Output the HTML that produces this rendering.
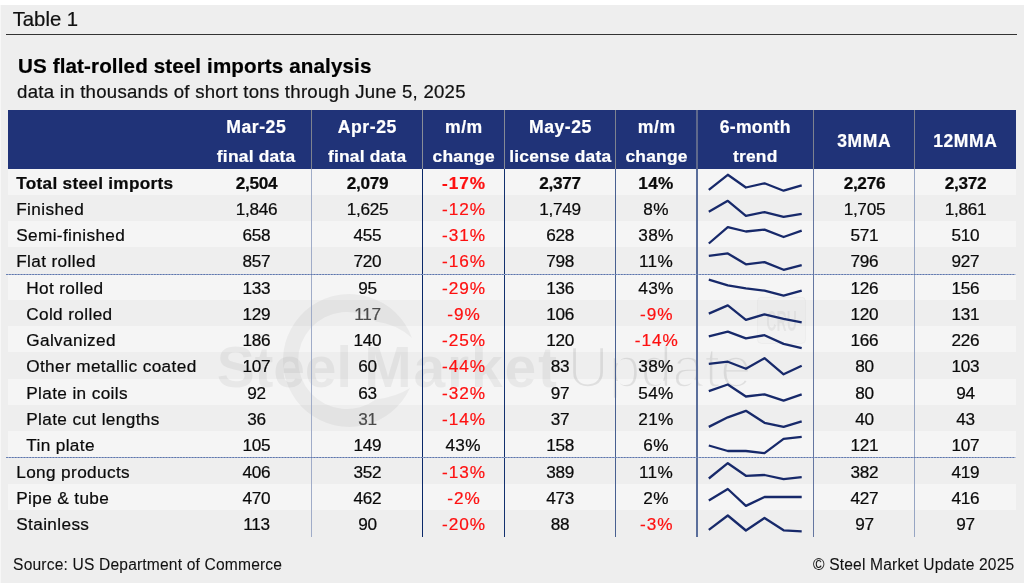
<!DOCTYPE html>
<html lang="en"><head><meta charset="utf-8"><title>Table 1 - US flat-rolled steel imports analysis</title>
<style>
html,body{margin:0;padding:0;background:#fff;}
body{width:1024px;height:583px;position:relative;overflow:hidden;font-family:"Liberation Sans", sans-serif;}
#pg{position:absolute;left:0;top:5px;width:1024px;height:578px;background:#eeeeee;border-left:1px solid #f7f7f7;box-sizing:border-box;}
.t{position:absolute;white-space:nowrap;-webkit-text-stroke:0.22px currentColor;}
#all{position:absolute;left:0;top:0;width:1024px;height:583px;will-change:transform;}
.r{position:absolute;}
svg{position:absolute;left:0;top:0;}

</style></head><body>
<div id="pg"></div><div id="all">
<div class="t" style="left:12.70px;top:9.12px;font-size:20.3px;line-height:20.3px;font-weight:normal;color:#111;">Table 1</div>
<div class="r" style="left:6.4px;top:33.9px;width:1010.6px;height:1.2px;background:#333"></div>
<div class="t" style="left:18.00px;top:56.16px;font-size:20.6px;line-height:20.6px;font-weight:bold;color:#000;letter-spacing:0.12px;">US flat-rolled steel imports analysis</div>
<div class="t" style="left:17.10px;top:82.76px;font-size:18.6px;line-height:18.6px;font-weight:normal;color:#111;letter-spacing:0.26px;">data in thousands of short tons through June 5, 2025</div>
<div class="r" style="left:7.5px;top:168.60px;width:1008.00px;height:26.27px;background:#f5f5f5"></div>
<div class="r" style="left:7.5px;top:221.14px;width:1008.00px;height:26.27px;background:#f5f5f5"></div>
<div class="r" style="left:7.5px;top:273.68px;width:1008.00px;height:26.27px;background:#f5f5f5"></div>
<div class="r" style="left:7.5px;top:326.22px;width:1008.00px;height:26.27px;background:#f5f5f5"></div>
<div class="r" style="left:7.5px;top:378.76px;width:1008.00px;height:26.27px;background:#f5f5f5"></div>
<div class="r" style="left:7.5px;top:431.30px;width:1008.00px;height:26.27px;background:#f5f5f5"></div>
<div class="r" style="left:7.5px;top:483.84px;width:1008.00px;height:26.27px;background:#f5f5f5"></div>
<svg width="1024" height="583" viewBox="0 0 1024 583">
<g fill="#000" fill-opacity="0.05">
<path fill-opacity="0.043" d="M412,338 A66.5,66.5 0 1 0 410,388 Q396,397 375.7,399.4 A48.5,48.5 0 1 1 375.7,321.6 Q396,324 412,338 Z"/>
<text x="216.7" y="387.2" font-family='"Liberation Sans", sans-serif' font-size="57" font-weight="bold" letter-spacing="-0.2">Steel</text>
<text x="364.3" y="387.2" font-family='"Liberation Sans", sans-serif' font-size="57" font-weight="bold" letter-spacing="1.8">Market</text>
<mask id="mU" maskUnits="userSpaceOnUse" x="555" y="325" width="215" height="85"><text x="567.5" y="387.2" font-family='"Liberation Sans", sans-serif' font-size="57" letter-spacing="0.1" fill="#fff" fill-opacity="1" stroke="#000" stroke-width="2.6">Update</text></mask>
<rect x="555" y="325" width="215" height="85" fill-opacity="0.085" mask="url(#mU)"/>
</g>
<rect x="757.4" y="297.3" width="48.2" height="46.1" rx="4" fill="#000" fill-opacity="0.012" stroke="#000" stroke-opacity="0.03" stroke-width="1"/>
<text transform="translate(766.3,330.8) scale(0.47,1)" font-family='"Liberation Sans", sans-serif' font-size="30" font-weight="bold" fill="#000" fill-opacity="0.05">CRU</text>
</svg>
<div class="r" style="left:7.5px;top:110.0px;width:1008.00px;height:58.60px;background:#203378"></div>
<div class="t" style="left:200.88px;top:119.20px;font-size:17.6px;line-height:17.6px;font-weight:bold;color:#fff;letter-spacing:0.55px;width:110.80px;text-align:center;">Mar-25</div>
<div class="t" style="left:200.71px;top:148.17px;font-size:17.4px;line-height:17.4px;font-weight:bold;color:#fff;letter-spacing:0.22px;width:110.80px;text-align:center;">final data</div>
<div class="t" style="left:311.67px;top:119.20px;font-size:17.6px;line-height:17.6px;font-weight:bold;color:#fff;letter-spacing:0.55px;width:111.30px;text-align:center;">Apr-25</div>
<div class="t" style="left:311.51px;top:148.17px;font-size:17.4px;line-height:17.4px;font-weight:bold;color:#fff;letter-spacing:0.22px;width:111.30px;text-align:center;">final data</div>
<div class="t" style="left:422.97px;top:119.20px;font-size:17.6px;line-height:17.6px;font-weight:bold;color:#fff;letter-spacing:0.55px;width:81.80px;text-align:center;">m/m</div>
<div class="t" style="left:422.81px;top:148.17px;font-size:17.4px;line-height:17.4px;font-weight:bold;color:#fff;letter-spacing:0.22px;width:81.80px;text-align:center;">change</div>
<div class="t" style="left:504.77px;top:119.20px;font-size:17.6px;line-height:17.6px;font-weight:bold;color:#fff;letter-spacing:0.55px;width:111.40px;text-align:center;">May-25</div>
<div class="t" style="left:504.61px;top:148.17px;font-size:17.4px;line-height:17.4px;font-weight:bold;color:#fff;letter-spacing:0.22px;width:111.40px;text-align:center;">license data</div>
<div class="t" style="left:616.17px;top:119.20px;font-size:17.6px;line-height:17.6px;font-weight:bold;color:#fff;letter-spacing:0.55px;width:81.10px;text-align:center;">m/m</div>
<div class="t" style="left:616.01px;top:148.17px;font-size:17.4px;line-height:17.4px;font-weight:bold;color:#fff;letter-spacing:0.22px;width:81.10px;text-align:center;">change</div>
<div class="t" style="left:697.10px;top:119.20px;font-size:17.6px;line-height:17.6px;font-weight:bold;color:#fff;letter-spacing:0.2px;width:116.30px;text-align:center;">6-month</div>
<div class="t" style="left:697.11px;top:148.17px;font-size:17.4px;line-height:17.4px;font-weight:bold;color:#fff;letter-spacing:0.22px;width:116.30px;text-align:center;">trend</div>
<div class="t" style="left:813.60px;top:133.29px;font-size:17.5px;line-height:17.5px;font-weight:bold;color:#fff;letter-spacing:0.6px;width:101.30px;text-align:center;">3MMA</div>
<div class="t" style="left:914.90px;top:133.29px;font-size:17.5px;line-height:17.5px;font-weight:bold;color:#fff;letter-spacing:0.6px;width:100.90px;text-align:center;">12MMA</div>
<div class="t" style="left:16.20px;top:174.54px;font-size:17.2px;line-height:17.2px;font-weight:bold;color:#0a0a0a;letter-spacing:0.3px;">Total steel imports</div>
<div class="t" style="left:201.05px;top:174.54px;font-size:17.2px;line-height:17.2px;font-weight:bold;color:#0a0a0a;letter-spacing:-0.3px;width:110.80px;text-align:center;">2,504</div>
<div class="t" style="left:311.85px;top:174.54px;font-size:17.2px;line-height:17.2px;font-weight:bold;color:#0a0a0a;letter-spacing:-0.3px;width:111.30px;text-align:center;">2,079</div>
<div class="t" style="left:423.08px;top:174.54px;font-size:17.2px;line-height:17.2px;font-weight:bold;color:#fe1010;letter-spacing:0.95px;width:81.80px;text-align:center;">-17%</div>
<div class="t" style="left:504.35px;top:174.54px;font-size:17.2px;line-height:17.2px;font-weight:bold;color:#0a0a0a;letter-spacing:-0.3px;width:111.40px;text-align:center;">2,377</div>
<div class="t" style="left:615.47px;top:174.54px;font-size:17.2px;line-height:17.2px;font-weight:bold;color:#0a0a0a;letter-spacing:0.35px;width:81.10px;text-align:center;">14%</div>
<div class="t" style="left:813.75px;top:174.54px;font-size:17.2px;line-height:17.2px;font-weight:bold;color:#0a0a0a;letter-spacing:-0.3px;width:101.30px;text-align:center;">2,276</div>
<div class="t" style="left:915.05px;top:174.54px;font-size:17.2px;line-height:17.2px;font-weight:bold;color:#0a0a0a;letter-spacing:-0.3px;width:100.90px;text-align:center;">2,372</div>
<div class="t" style="left:16.20px;top:200.81px;font-size:17.2px;line-height:17.2px;font-weight:normal;color:#0a0a0a;letter-spacing:0.38px;">Finished</div>
<div class="t" style="left:201.05px;top:200.81px;font-size:17.2px;line-height:17.2px;font-weight:normal;color:#0a0a0a;letter-spacing:-0.3px;width:110.80px;text-align:center;">1,846</div>
<div class="t" style="left:311.85px;top:200.81px;font-size:17.2px;line-height:17.2px;font-weight:normal;color:#0a0a0a;letter-spacing:-0.3px;width:111.30px;text-align:center;">1,625</div>
<div class="t" style="left:423.08px;top:200.81px;font-size:17.2px;line-height:17.2px;font-weight:normal;color:#fe1010;letter-spacing:0.95px;width:81.80px;text-align:center;">-12%</div>
<div class="t" style="left:504.35px;top:200.81px;font-size:17.2px;line-height:17.2px;font-weight:normal;color:#0a0a0a;letter-spacing:-0.3px;width:111.40px;text-align:center;">1,749</div>
<div class="t" style="left:615.47px;top:200.81px;font-size:17.2px;line-height:17.2px;font-weight:normal;color:#0a0a0a;letter-spacing:0.35px;width:81.10px;text-align:center;">8%</div>
<div class="t" style="left:813.75px;top:200.81px;font-size:17.2px;line-height:17.2px;font-weight:normal;color:#0a0a0a;letter-spacing:-0.3px;width:101.30px;text-align:center;">1,705</div>
<div class="t" style="left:915.05px;top:200.81px;font-size:17.2px;line-height:17.2px;font-weight:normal;color:#0a0a0a;letter-spacing:-0.3px;width:100.90px;text-align:center;">1,861</div>
<div class="t" style="left:16.20px;top:227.08px;font-size:17.2px;line-height:17.2px;font-weight:normal;color:#0a0a0a;letter-spacing:0.38px;">Semi-finished</div>
<div class="t" style="left:201.05px;top:227.08px;font-size:17.2px;line-height:17.2px;font-weight:normal;color:#0a0a0a;letter-spacing:-0.3px;width:110.80px;text-align:center;">658</div>
<div class="t" style="left:311.85px;top:227.08px;font-size:17.2px;line-height:17.2px;font-weight:normal;color:#0a0a0a;letter-spacing:-0.3px;width:111.30px;text-align:center;">455</div>
<div class="t" style="left:423.08px;top:227.08px;font-size:17.2px;line-height:17.2px;font-weight:normal;color:#fe1010;letter-spacing:0.95px;width:81.80px;text-align:center;">-31%</div>
<div class="t" style="left:504.35px;top:227.08px;font-size:17.2px;line-height:17.2px;font-weight:normal;color:#0a0a0a;letter-spacing:-0.3px;width:111.40px;text-align:center;">628</div>
<div class="t" style="left:615.47px;top:227.08px;font-size:17.2px;line-height:17.2px;font-weight:normal;color:#0a0a0a;letter-spacing:0.35px;width:81.10px;text-align:center;">38%</div>
<div class="t" style="left:813.75px;top:227.08px;font-size:17.2px;line-height:17.2px;font-weight:normal;color:#0a0a0a;letter-spacing:-0.3px;width:101.30px;text-align:center;">571</div>
<div class="t" style="left:915.05px;top:227.08px;font-size:17.2px;line-height:17.2px;font-weight:normal;color:#0a0a0a;letter-spacing:-0.3px;width:100.90px;text-align:center;">510</div>
<div class="t" style="left:16.20px;top:253.35px;font-size:17.2px;line-height:17.2px;font-weight:normal;color:#0a0a0a;letter-spacing:0.38px;">Flat rolled</div>
<div class="t" style="left:201.05px;top:253.35px;font-size:17.2px;line-height:17.2px;font-weight:normal;color:#0a0a0a;letter-spacing:-0.3px;width:110.80px;text-align:center;">857</div>
<div class="t" style="left:311.85px;top:253.35px;font-size:17.2px;line-height:17.2px;font-weight:normal;color:#0a0a0a;letter-spacing:-0.3px;width:111.30px;text-align:center;">720</div>
<div class="t" style="left:423.08px;top:253.35px;font-size:17.2px;line-height:17.2px;font-weight:normal;color:#fe1010;letter-spacing:0.95px;width:81.80px;text-align:center;">-16%</div>
<div class="t" style="left:504.35px;top:253.35px;font-size:17.2px;line-height:17.2px;font-weight:normal;color:#0a0a0a;letter-spacing:-0.3px;width:111.40px;text-align:center;">798</div>
<div class="t" style="left:615.47px;top:253.35px;font-size:17.2px;line-height:17.2px;font-weight:normal;color:#0a0a0a;letter-spacing:0.35px;width:81.10px;text-align:center;">11%</div>
<div class="t" style="left:813.75px;top:253.35px;font-size:17.2px;line-height:17.2px;font-weight:normal;color:#0a0a0a;letter-spacing:-0.3px;width:101.30px;text-align:center;">796</div>
<div class="t" style="left:915.05px;top:253.35px;font-size:17.2px;line-height:17.2px;font-weight:normal;color:#0a0a0a;letter-spacing:-0.3px;width:100.90px;text-align:center;">927</div>
<div class="t" style="left:26.20px;top:279.62px;font-size:17.2px;line-height:17.2px;font-weight:normal;color:#0a0a0a;letter-spacing:0.38px;">Hot rolled</div>
<div class="t" style="left:201.05px;top:279.62px;font-size:17.2px;line-height:17.2px;font-weight:normal;color:#0a0a0a;letter-spacing:-0.3px;width:110.80px;text-align:center;">133</div>
<div class="t" style="left:311.85px;top:279.62px;font-size:17.2px;line-height:17.2px;font-weight:normal;color:#0a0a0a;letter-spacing:-0.3px;width:111.30px;text-align:center;">95</div>
<div class="t" style="left:423.08px;top:279.62px;font-size:17.2px;line-height:17.2px;font-weight:normal;color:#fe1010;letter-spacing:0.95px;width:81.80px;text-align:center;">-29%</div>
<div class="t" style="left:504.35px;top:279.62px;font-size:17.2px;line-height:17.2px;font-weight:normal;color:#0a0a0a;letter-spacing:-0.3px;width:111.40px;text-align:center;">136</div>
<div class="t" style="left:615.47px;top:279.62px;font-size:17.2px;line-height:17.2px;font-weight:normal;color:#0a0a0a;letter-spacing:0.35px;width:81.10px;text-align:center;">43%</div>
<div class="t" style="left:813.75px;top:279.62px;font-size:17.2px;line-height:17.2px;font-weight:normal;color:#0a0a0a;letter-spacing:-0.3px;width:101.30px;text-align:center;">126</div>
<div class="t" style="left:915.05px;top:279.62px;font-size:17.2px;line-height:17.2px;font-weight:normal;color:#0a0a0a;letter-spacing:-0.3px;width:100.90px;text-align:center;">156</div>
<div class="t" style="left:26.20px;top:305.89px;font-size:17.2px;line-height:17.2px;font-weight:normal;color:#0a0a0a;letter-spacing:0.38px;">Cold rolled</div>
<div class="t" style="left:201.05px;top:305.89px;font-size:17.2px;line-height:17.2px;font-weight:normal;color:#0a0a0a;letter-spacing:-0.3px;width:110.80px;text-align:center;">129</div>
<div class="t" style="left:311.85px;top:305.89px;font-size:17.2px;line-height:17.2px;font-weight:normal;color:#4a4a4a;letter-spacing:-0.3px;width:111.30px;text-align:center;">117</div>
<div class="t" style="left:423.08px;top:305.89px;font-size:17.2px;line-height:17.2px;font-weight:normal;color:#fe1010;letter-spacing:0.95px;width:81.80px;text-align:center;">-9%</div>
<div class="t" style="left:504.35px;top:305.89px;font-size:17.2px;line-height:17.2px;font-weight:normal;color:#0a0a0a;letter-spacing:-0.3px;width:111.40px;text-align:center;">106</div>
<div class="t" style="left:616.27px;top:305.89px;font-size:17.2px;line-height:17.2px;font-weight:normal;color:#fe1010;letter-spacing:0.95px;width:81.10px;text-align:center;">-9%</div>
<div class="t" style="left:813.75px;top:305.89px;font-size:17.2px;line-height:17.2px;font-weight:normal;color:#0a0a0a;letter-spacing:-0.3px;width:101.30px;text-align:center;">120</div>
<div class="t" style="left:915.05px;top:305.89px;font-size:17.2px;line-height:17.2px;font-weight:normal;color:#0a0a0a;letter-spacing:-0.3px;width:100.90px;text-align:center;">131</div>
<div class="t" style="left:26.20px;top:332.16px;font-size:17.2px;line-height:17.2px;font-weight:normal;color:#0a0a0a;letter-spacing:0.38px;">Galvanized</div>
<div class="t" style="left:201.05px;top:332.16px;font-size:17.2px;line-height:17.2px;font-weight:normal;color:#0a0a0a;letter-spacing:-0.3px;width:110.80px;text-align:center;">186</div>
<div class="t" style="left:311.85px;top:332.16px;font-size:17.2px;line-height:17.2px;font-weight:normal;color:#0a0a0a;letter-spacing:-0.3px;width:111.30px;text-align:center;">140</div>
<div class="t" style="left:423.08px;top:332.16px;font-size:17.2px;line-height:17.2px;font-weight:normal;color:#fe1010;letter-spacing:0.95px;width:81.80px;text-align:center;">-25%</div>
<div class="t" style="left:504.35px;top:332.16px;font-size:17.2px;line-height:17.2px;font-weight:normal;color:#0a0a0a;letter-spacing:-0.3px;width:111.40px;text-align:center;">120</div>
<div class="t" style="left:616.27px;top:332.16px;font-size:17.2px;line-height:17.2px;font-weight:normal;color:#fe1010;letter-spacing:0.95px;width:81.10px;text-align:center;">-14%</div>
<div class="t" style="left:813.75px;top:332.16px;font-size:17.2px;line-height:17.2px;font-weight:normal;color:#0a0a0a;letter-spacing:-0.3px;width:101.30px;text-align:center;">166</div>
<div class="t" style="left:915.05px;top:332.16px;font-size:17.2px;line-height:17.2px;font-weight:normal;color:#0a0a0a;letter-spacing:-0.3px;width:100.90px;text-align:center;">226</div>
<div class="t" style="left:26.20px;top:358.43px;font-size:17.2px;line-height:17.2px;font-weight:normal;color:#0a0a0a;letter-spacing:0.38px;">Other metallic coated</div>
<div class="t" style="left:201.05px;top:358.43px;font-size:17.2px;line-height:17.2px;font-weight:normal;color:#0a0a0a;letter-spacing:-0.3px;width:110.80px;text-align:center;">107</div>
<div class="t" style="left:311.85px;top:358.43px;font-size:17.2px;line-height:17.2px;font-weight:normal;color:#0a0a0a;letter-spacing:-0.3px;width:111.30px;text-align:center;">60</div>
<div class="t" style="left:423.08px;top:358.43px;font-size:17.2px;line-height:17.2px;font-weight:normal;color:#fe1010;letter-spacing:0.95px;width:81.80px;text-align:center;">-44%</div>
<div class="t" style="left:504.35px;top:358.43px;font-size:17.2px;line-height:17.2px;font-weight:normal;color:#0a0a0a;letter-spacing:-0.3px;width:111.40px;text-align:center;">83</div>
<div class="t" style="left:615.47px;top:358.43px;font-size:17.2px;line-height:17.2px;font-weight:normal;color:#0a0a0a;letter-spacing:0.35px;width:81.10px;text-align:center;">38%</div>
<div class="t" style="left:813.75px;top:358.43px;font-size:17.2px;line-height:17.2px;font-weight:normal;color:#0a0a0a;letter-spacing:-0.3px;width:101.30px;text-align:center;">80</div>
<div class="t" style="left:915.05px;top:358.43px;font-size:17.2px;line-height:17.2px;font-weight:normal;color:#0a0a0a;letter-spacing:-0.3px;width:100.90px;text-align:center;">103</div>
<div class="t" style="left:26.20px;top:384.70px;font-size:17.2px;line-height:17.2px;font-weight:normal;color:#0a0a0a;letter-spacing:0.38px;">Plate in coils</div>
<div class="t" style="left:201.05px;top:384.70px;font-size:17.2px;line-height:17.2px;font-weight:normal;color:#0a0a0a;letter-spacing:-0.3px;width:110.80px;text-align:center;">92</div>
<div class="t" style="left:311.85px;top:384.70px;font-size:17.2px;line-height:17.2px;font-weight:normal;color:#0a0a0a;letter-spacing:-0.3px;width:111.30px;text-align:center;">63</div>
<div class="t" style="left:423.08px;top:384.70px;font-size:17.2px;line-height:17.2px;font-weight:normal;color:#fe1010;letter-spacing:0.95px;width:81.80px;text-align:center;">-32%</div>
<div class="t" style="left:504.35px;top:384.70px;font-size:17.2px;line-height:17.2px;font-weight:normal;color:#0a0a0a;letter-spacing:-0.3px;width:111.40px;text-align:center;">97</div>
<div class="t" style="left:615.47px;top:384.70px;font-size:17.2px;line-height:17.2px;font-weight:normal;color:#0a0a0a;letter-spacing:0.35px;width:81.10px;text-align:center;">54%</div>
<div class="t" style="left:813.75px;top:384.70px;font-size:17.2px;line-height:17.2px;font-weight:normal;color:#0a0a0a;letter-spacing:-0.3px;width:101.30px;text-align:center;">80</div>
<div class="t" style="left:915.05px;top:384.70px;font-size:17.2px;line-height:17.2px;font-weight:normal;color:#0a0a0a;letter-spacing:-0.3px;width:100.90px;text-align:center;">94</div>
<div class="t" style="left:26.20px;top:410.97px;font-size:17.2px;line-height:17.2px;font-weight:normal;color:#0a0a0a;letter-spacing:0.38px;">Plate cut lengths</div>
<div class="t" style="left:201.05px;top:410.97px;font-size:17.2px;line-height:17.2px;font-weight:normal;color:#0a0a0a;letter-spacing:-0.3px;width:110.80px;text-align:center;">36</div>
<div class="t" style="left:311.85px;top:410.97px;font-size:17.2px;line-height:17.2px;font-weight:normal;color:#4a4a4a;letter-spacing:-0.3px;width:111.30px;text-align:center;">31</div>
<div class="t" style="left:423.08px;top:410.97px;font-size:17.2px;line-height:17.2px;font-weight:normal;color:#fe1010;letter-spacing:0.95px;width:81.80px;text-align:center;">-14%</div>
<div class="t" style="left:504.35px;top:410.97px;font-size:17.2px;line-height:17.2px;font-weight:normal;color:#0a0a0a;letter-spacing:-0.3px;width:111.40px;text-align:center;">37</div>
<div class="t" style="left:615.47px;top:410.97px;font-size:17.2px;line-height:17.2px;font-weight:normal;color:#0a0a0a;letter-spacing:0.35px;width:81.10px;text-align:center;">21%</div>
<div class="t" style="left:813.75px;top:410.97px;font-size:17.2px;line-height:17.2px;font-weight:normal;color:#0a0a0a;letter-spacing:-0.3px;width:101.30px;text-align:center;">40</div>
<div class="t" style="left:915.05px;top:410.97px;font-size:17.2px;line-height:17.2px;font-weight:normal;color:#0a0a0a;letter-spacing:-0.3px;width:100.90px;text-align:center;">43</div>
<div class="t" style="left:26.20px;top:437.24px;font-size:17.2px;line-height:17.2px;font-weight:normal;color:#0a0a0a;letter-spacing:0.38px;">Tin plate</div>
<div class="t" style="left:201.05px;top:437.24px;font-size:17.2px;line-height:17.2px;font-weight:normal;color:#0a0a0a;letter-spacing:-0.3px;width:110.80px;text-align:center;">105</div>
<div class="t" style="left:311.85px;top:437.24px;font-size:17.2px;line-height:17.2px;font-weight:normal;color:#0a0a0a;letter-spacing:-0.3px;width:111.30px;text-align:center;">149</div>
<div class="t" style="left:422.28px;top:437.24px;font-size:17.2px;line-height:17.2px;font-weight:normal;color:#0a0a0a;letter-spacing:0.35px;width:81.80px;text-align:center;">43%</div>
<div class="t" style="left:504.35px;top:437.24px;font-size:17.2px;line-height:17.2px;font-weight:normal;color:#0a0a0a;letter-spacing:-0.3px;width:111.40px;text-align:center;">158</div>
<div class="t" style="left:615.47px;top:437.24px;font-size:17.2px;line-height:17.2px;font-weight:normal;color:#0a0a0a;letter-spacing:0.35px;width:81.10px;text-align:center;">6%</div>
<div class="t" style="left:813.75px;top:437.24px;font-size:17.2px;line-height:17.2px;font-weight:normal;color:#0a0a0a;letter-spacing:-0.3px;width:101.30px;text-align:center;">121</div>
<div class="t" style="left:915.05px;top:437.24px;font-size:17.2px;line-height:17.2px;font-weight:normal;color:#0a0a0a;letter-spacing:-0.3px;width:100.90px;text-align:center;">107</div>
<div class="t" style="left:16.20px;top:463.51px;font-size:17.2px;line-height:17.2px;font-weight:normal;color:#0a0a0a;letter-spacing:0.38px;">Long products</div>
<div class="t" style="left:201.05px;top:463.51px;font-size:17.2px;line-height:17.2px;font-weight:normal;color:#0a0a0a;letter-spacing:-0.3px;width:110.80px;text-align:center;">406</div>
<div class="t" style="left:311.85px;top:463.51px;font-size:17.2px;line-height:17.2px;font-weight:normal;color:#0a0a0a;letter-spacing:-0.3px;width:111.30px;text-align:center;">352</div>
<div class="t" style="left:423.08px;top:463.51px;font-size:17.2px;line-height:17.2px;font-weight:normal;color:#fe1010;letter-spacing:0.95px;width:81.80px;text-align:center;">-13%</div>
<div class="t" style="left:504.35px;top:463.51px;font-size:17.2px;line-height:17.2px;font-weight:normal;color:#0a0a0a;letter-spacing:-0.3px;width:111.40px;text-align:center;">389</div>
<div class="t" style="left:615.47px;top:463.51px;font-size:17.2px;line-height:17.2px;font-weight:normal;color:#0a0a0a;letter-spacing:0.35px;width:81.10px;text-align:center;">11%</div>
<div class="t" style="left:813.75px;top:463.51px;font-size:17.2px;line-height:17.2px;font-weight:normal;color:#0a0a0a;letter-spacing:-0.3px;width:101.30px;text-align:center;">382</div>
<div class="t" style="left:915.05px;top:463.51px;font-size:17.2px;line-height:17.2px;font-weight:normal;color:#0a0a0a;letter-spacing:-0.3px;width:100.90px;text-align:center;">419</div>
<div class="t" style="left:16.20px;top:489.78px;font-size:17.2px;line-height:17.2px;font-weight:normal;color:#0a0a0a;letter-spacing:0.38px;">Pipe &amp; tube</div>
<div class="t" style="left:201.05px;top:489.78px;font-size:17.2px;line-height:17.2px;font-weight:normal;color:#0a0a0a;letter-spacing:-0.3px;width:110.80px;text-align:center;">470</div>
<div class="t" style="left:311.85px;top:489.78px;font-size:17.2px;line-height:17.2px;font-weight:normal;color:#0a0a0a;letter-spacing:-0.3px;width:111.30px;text-align:center;">462</div>
<div class="t" style="left:423.08px;top:489.78px;font-size:17.2px;line-height:17.2px;font-weight:normal;color:#fe1010;letter-spacing:0.95px;width:81.80px;text-align:center;">-2%</div>
<div class="t" style="left:504.35px;top:489.78px;font-size:17.2px;line-height:17.2px;font-weight:normal;color:#0a0a0a;letter-spacing:-0.3px;width:111.40px;text-align:center;">473</div>
<div class="t" style="left:615.47px;top:489.78px;font-size:17.2px;line-height:17.2px;font-weight:normal;color:#0a0a0a;letter-spacing:0.35px;width:81.10px;text-align:center;">2%</div>
<div class="t" style="left:813.75px;top:489.78px;font-size:17.2px;line-height:17.2px;font-weight:normal;color:#0a0a0a;letter-spacing:-0.3px;width:101.30px;text-align:center;">427</div>
<div class="t" style="left:915.05px;top:489.78px;font-size:17.2px;line-height:17.2px;font-weight:normal;color:#0a0a0a;letter-spacing:-0.3px;width:100.90px;text-align:center;">416</div>
<div class="t" style="left:16.20px;top:516.05px;font-size:17.2px;line-height:17.2px;font-weight:normal;color:#0a0a0a;letter-spacing:0.38px;">Stainless</div>
<div class="t" style="left:201.05px;top:516.05px;font-size:17.2px;line-height:17.2px;font-weight:normal;color:#0a0a0a;letter-spacing:-0.3px;width:110.80px;text-align:center;">113</div>
<div class="t" style="left:311.85px;top:516.05px;font-size:17.2px;line-height:17.2px;font-weight:normal;color:#0a0a0a;letter-spacing:-0.3px;width:111.30px;text-align:center;">90</div>
<div class="t" style="left:423.08px;top:516.05px;font-size:17.2px;line-height:17.2px;font-weight:normal;color:#fe1010;letter-spacing:0.95px;width:81.80px;text-align:center;">-20%</div>
<div class="t" style="left:504.35px;top:516.05px;font-size:17.2px;line-height:17.2px;font-weight:normal;color:#0a0a0a;letter-spacing:-0.3px;width:111.40px;text-align:center;">88</div>
<div class="t" style="left:616.27px;top:516.05px;font-size:17.2px;line-height:17.2px;font-weight:normal;color:#fe1010;letter-spacing:0.95px;width:81.10px;text-align:center;">-3%</div>
<div class="t" style="left:813.75px;top:516.05px;font-size:17.2px;line-height:17.2px;font-weight:normal;color:#0a0a0a;letter-spacing:-0.3px;width:101.30px;text-align:center;">97</div>
<div class="t" style="left:915.05px;top:516.05px;font-size:17.2px;line-height:17.2px;font-weight:normal;color:#0a0a0a;letter-spacing:-0.3px;width:100.90px;text-align:center;">97</div>
<svg width="1024" height="583" viewBox="0 0 1024 583" fill="none">
<rect x="311" y="168.6" width="1" height="368.3" fill="#a0acc8" shape-rendering="crispEdges"/>
<rect x="311" y="110.0" width="1" height="58.6" fill="#7d828f" shape-rendering="crispEdges"/>
<rect x="422" y="168.6" width="1" height="368.3" fill="#0a2869" shape-rendering="crispEdges"/>
<rect x="422" y="110.0" width="1" height="58.6" fill="#888d98" shape-rendering="crispEdges"/>
<rect x="504" y="168.6" width="1" height="368.3" fill="#12306e" shape-rendering="crispEdges"/>
<rect x="504" y="110.0" width="1" height="58.6" fill="#858a96" shape-rendering="crispEdges"/>
<rect x="615" y="168.6" width="1" height="368.3" fill="#486090" shape-rendering="crispEdges"/>
<rect x="615" y="110.0" width="1" height="58.6" fill="#7d828f" shape-rendering="crispEdges"/>
<rect x="696" y="168.6" width="2" height="368.3" fill="#5a6e9b" shape-rendering="crispEdges"/>
<rect x="696" y="110.0" width="2" height="58.6" fill="#5f698c" shape-rendering="crispEdges"/>
<rect x="813" y="168.6" width="1" height="368.3" fill="#6476a0" shape-rendering="crispEdges"/>
<rect x="813" y="110.0" width="1" height="58.6" fill="#7d828f" shape-rendering="crispEdges"/>
<rect x="914" y="168.6" width="1" height="368.3" fill="#96a5c3" shape-rendering="crispEdges"/>
<rect x="914" y="110.0" width="1" height="58.6" fill="#7a7f8e" shape-rendering="crispEdges"/>
<line x1="6.2" y1="274.5" x2="1015.5" y2="274.5" stroke="#a3b0d0" stroke-width="1"/>
<line x1="6.2" y1="274.5" x2="1015.5" y2="274.5" stroke="#5c75ab" stroke-width="1" stroke-dasharray="1.6 1.3"/>
<line x1="6.2" y1="457.5" x2="1015.5" y2="457.5" stroke="#a3b0d0" stroke-width="1"/>
<line x1="6.2" y1="457.5" x2="1015.5" y2="457.5" stroke="#5c75ab" stroke-width="1" stroke-dasharray="1.6 1.3"/>
<polyline points="708.8,189.9 727.8,174.8 745.9,187.5 764.5,183.3 783.6,190.7 801.7,185.3" stroke="#17296a" stroke-width="2.3" stroke-linejoin="round" stroke-linecap="butt"/>
<polyline points="708.8,211.8 727.8,200.8 745.9,215.8 764.5,212.1 783.6,216.9 801.7,213.9" stroke="#17296a" stroke-width="2.3" stroke-linejoin="round" stroke-linecap="butt"/>
<polyline points="708.8,243.5 727.8,227.1 745.9,231.5 764.5,229.6 783.6,237.0 801.7,230.6" stroke="#17296a" stroke-width="2.3" stroke-linejoin="round" stroke-linecap="butt"/>
<polyline points="708.8,255.9 727.8,253.4 745.9,264.3 764.5,262.1 783.6,269.8 801.7,265.1" stroke="#17296a" stroke-width="2.3" stroke-linejoin="round" stroke-linecap="butt"/>
<polyline points="708.8,279.7 727.8,285.3 745.9,288.4 764.5,290.6 783.6,295.7 801.7,290.6" stroke="#17296a" stroke-width="2.3" stroke-linejoin="round" stroke-linecap="butt"/>
<polyline points="708.8,313.6 727.8,305.4 745.9,319.8 764.5,314.3 783.6,318.8 801.7,322.3" stroke="#17296a" stroke-width="2.3" stroke-linejoin="round" stroke-linecap="butt"/>
<polyline points="708.8,336.4 727.8,331.7 745.9,338.4 764.5,335.2 783.6,343.9 801.7,348.1" stroke="#17296a" stroke-width="2.3" stroke-linejoin="round" stroke-linecap="butt"/>
<polyline points="708.8,363.9 727.8,361.7 745.9,368.8 764.5,358.2 783.6,374.3 801.7,365.8" stroke="#17296a" stroke-width="2.3" stroke-linejoin="round" stroke-linecap="butt"/>
<polyline points="708.8,391.1 727.8,384.5 745.9,396.5 764.5,394.4 783.6,400.6 801.7,394.4" stroke="#17296a" stroke-width="2.3" stroke-linejoin="round" stroke-linecap="butt"/>
<polyline points="708.8,426.9 727.8,417.3 745.9,410.8 764.5,422.8 783.6,426.9 801.7,421.4" stroke="#17296a" stroke-width="2.3" stroke-linejoin="round" stroke-linecap="butt"/>
<polyline points="708.8,445.5 727.8,451.0 745.9,451.0 764.5,453.2 783.6,438.9 801.7,436.8" stroke="#17296a" stroke-width="2.3" stroke-linejoin="round" stroke-linecap="butt"/>
<polyline points="708.8,478.5 727.8,463.2 745.9,475.8 764.5,475.0 783.6,479.1 801.7,477.2" stroke="#17296a" stroke-width="2.3" stroke-linejoin="round" stroke-linecap="butt"/>
<polyline points="708.8,500.6 727.8,489.0 745.9,505.9 764.5,497.0 783.6,497.0 801.7,497.0" stroke="#17296a" stroke-width="2.3" stroke-linejoin="round" stroke-linecap="butt"/>
<polyline points="708.8,529.8 727.8,515.5 745.9,530.5 764.5,518.0 783.6,530.3 801.7,531.4" stroke="#17296a" stroke-width="2.3" stroke-linejoin="round" stroke-linecap="butt"/>
</svg>
<div class="t" style="left:13.10px;top:556.69px;font-size:15.6px;line-height:15.6px;font-weight:normal;color:#111;letter-spacing:0.17px;-webkit-text-stroke:0.08px currentColor;">Source: US Department of Commerce</div>
<div class="t" style="left:614.40px;top:556.69px;font-size:15.6px;line-height:15.6px;font-weight:normal;color:#111;letter-spacing:0.17px;width:400.00px;text-align:right;-webkit-text-stroke:0.08px currentColor;">© Steel Market Update 2025</div>
</div></body></html>
